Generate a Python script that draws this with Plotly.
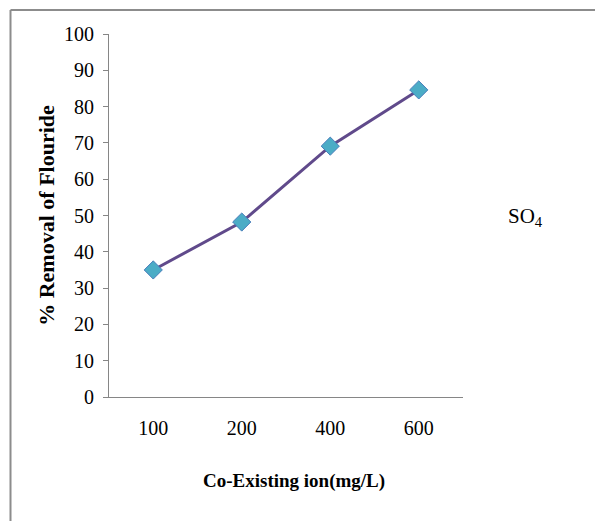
import plotly.graph_objects as go

categories = ["100", "200", "400", "600"]
removal = [35.0, 48.2, 69.1, 84.6]
y_ticks = [0, 10, 20, 30, 40, 50, 60, 70, 80, 90, 100]

W, H = 595, 521
L, R, T, B = 109, 132, 34, 124
pw = W - L - R
ph = H - T - B

def px_x(x):
    return (x - L) / pw

def px_y(y):
    return (H - B - y) / ph

fig = go.Figure()
fig.add_trace(go.Scatter(
    x=categories, y=removal, mode="lines+markers",
    line=dict(color="#604A8B", width=3),
    marker=dict(symbol="diamond", size=14, color="#4BACC6",
                line=dict(color="#4A7EBB", width=1)),
    showlegend=False,
))

font_serif = "Liberation Serif, Times New Roman, serif"

fig.update_layout(
    width=W, height=H,
    margin=dict(l=L, r=R, t=T, b=B, pad=0),
    paper_bgcolor="white", plot_bgcolor="white",
    font=dict(family=font_serif, color="black", size=20),
    xaxis=dict(
        type="category", range=[-0.5, 3.5],
        showline=True, linecolor="#868686", linewidth=1,
        showgrid=False, ticks="", zeroline=False,
        tickfont=dict(size=20, family=font_serif),
        ticklabelstandoff=13,
    ),
    yaxis=dict(
        range=[0, 100], tickvals=y_ticks,
        showline=True, linecolor="#868686", linewidth=1,
        showgrid=False, ticks="outside", ticklen=5, tickcolor="#868686",
        zeroline=False, ticklabelstandoff=5,
        tickfont=dict(size=20, family=font_serif),
        title=dict(text="<b>% Removal of Flouride</b>",
                   font=dict(size=22, family=font_serif), standoff=3),
    ),
    shapes=[
        dict(type="line", xref="paper", yref="paper",
             x0=px_x(10.5), x1=px_x(W + 5), y0=px_y(10), y1=px_y(10),
             line=dict(color="#8C8C8C", width=2)),
        dict(type="line", xref="paper", yref="paper",
             x0=px_x(10.5), x1=px_x(10.5), y0=px_y(10), y1=px_y(H + 5),
             line=dict(color="#8C8C8C", width=2)),
    ],
    annotations=[
        dict(text="<b>Co-Existing ion(mg/L)</b>", xref="paper", yref="paper",
             x=px_x(294), y=px_y(481), showarrow=False,
             xanchor="center", yanchor="middle",
             font=dict(size=19, family=font_serif, color="black")),
        dict(text="SO<sub>4</sub>", xref="paper", yref="paper",
             x=px_x(525), y=px_y(217), showarrow=False,
             xanchor="center", yanchor="middle",
             font=dict(size=21, family=font_serif, color="black")),
    ],
)

fig.write_html("out.html")
